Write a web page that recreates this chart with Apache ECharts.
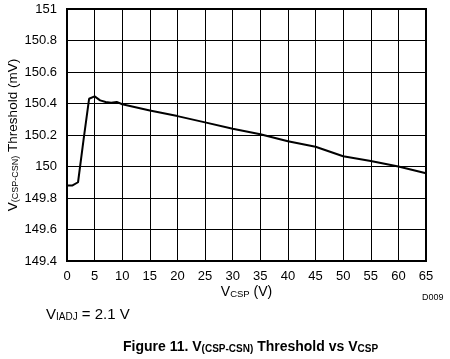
<!DOCTYPE html>
<html><head><meta charset="utf-8">
<script src="https://cdn.jsdelivr.net/npm/echarts@6/dist/echarts.min.js"></script>
<style>html,body{margin:0;padding:0;background:#fff}#c{width:450px;height:359px}</style>
</head><body><div id="c"></div>
<script>
var vcsp = [0, 1, 2, 3, 4, 5, 6, 7, 8, 9, 10, 15, 20, 25, 30, 35, 40, 45, 50, 55, 60, 65];
var threshold = [149.88, 149.88, 149.90, 150.17, 150.43, 150.445, 150.42, 150.41, 150.405, 150.41, 150.395, 150.355, 150.32, 150.28, 150.24, 150.205, 150.16, 150.125, 150.065, 150.035, 150.00, 149.957];
var yTicks = ['149.4','149.6','149.8','150','150.2','150.4','150.6','150.8','151'];
var xTicks = ['0','5','10','15','20','25','30','35','40','45','50','55','60','65'];

var F = 'Liberation Sans, Arial, sans-serif';
var chart = echarts.init(document.getElementById('c'), null, {renderer:'canvas'});
var pts = vcsp.map(function(v,i){return [v, threshold[i]];});
chart.setOption({
  animation:false,
  backgroundColor:'#fff',
  grid:{left:67,right:24,top:9,bottom:98,containLabel:false,outerBoundsMode:'none',show:true,borderColor:'#000',borderWidth:2,backgroundColor:'transparent'},
  xAxis:{type:'value',min:0,max:65,interval:5,
    axisLine:{show:false},axisTick:{show:false},
    splitLine:{show:true,lineStyle:{color:'#000',width:1}},
    axisLabel:{color:'#000',fontFamily:F,fontSize:13,margin:9,formatter:function(v){return xTicks[Math.round(v/5)];}},
    name:'{a|V}{b|CSP}{a| (V)}',nameLocation:'middle',nameGap:22,nameMoveOverlap:false,
    nameTextStyle:{rich:{a:{fontFamily:F,fontSize:14,color:'#000',lineHeight:16,verticalAlign:'bottom'},b:{fontFamily:F,fontSize:9.5,color:'#000',verticalAlign:'bottom',lineHeight:12}}}
  },
  yAxis:{type:'value',min:149.4,max:151,interval:0.2,
    axisLine:{show:false},axisTick:{show:false},
    splitLine:{show:true,lineStyle:{color:'#000',width:1}},
    axisLabel:{color:'#000',fontFamily:F,fontSize:13,margin:10,formatter:function(v){return yTicks[Math.round((v-149.4)/0.2)];}},
    name:'{a|V}{b|(CSP-CSN)}{a| Threshold (mV)}',nameLocation:'middle',nameGap:47,nameRotate:90,nameMoveOverlap:false,
    nameTextStyle:{rich:{a:{fontFamily:F,fontSize:13.5,color:'#000',lineHeight:16,verticalAlign:'bottom'},b:{fontFamily:F,fontSize:9,color:'#000',verticalAlign:'bottom',lineHeight:12}}}
  },
  series:[{type:'line',data:pts,showSymbol:false,lineStyle:{color:'#000',width:2},z:5}],
  graphic:[
    {type:'text',left:422,top:293,style:{text:'D009',font:'9px '+F,fill:'#000'}},
    {type:'text',left:46,top:307,style:{text:'{a|V}{b|IADJ}{a| = 2.1 V}',rich:{a:{font:'15px '+F,fill:'#000',lineHeight:17,verticalAlign:'bottom'},b:{font:'10px '+F,fill:'#000',lineHeight:13,verticalAlign:'bottom'}}}},
    {type:'text',left:123,top:340,style:{text:'{a|Figure 11. V}{b|(CSP-CSN)}{a| Threshold vs V}{b|CSP}',rich:{a:{font:'bold 14px '+F,fill:'#000',lineHeight:16,verticalAlign:'bottom'},b:{font:'bold 10px '+F,fill:'#000',lineHeight:12,verticalAlign:'bottom'}}}}
  ]
});
</script></body></html>
